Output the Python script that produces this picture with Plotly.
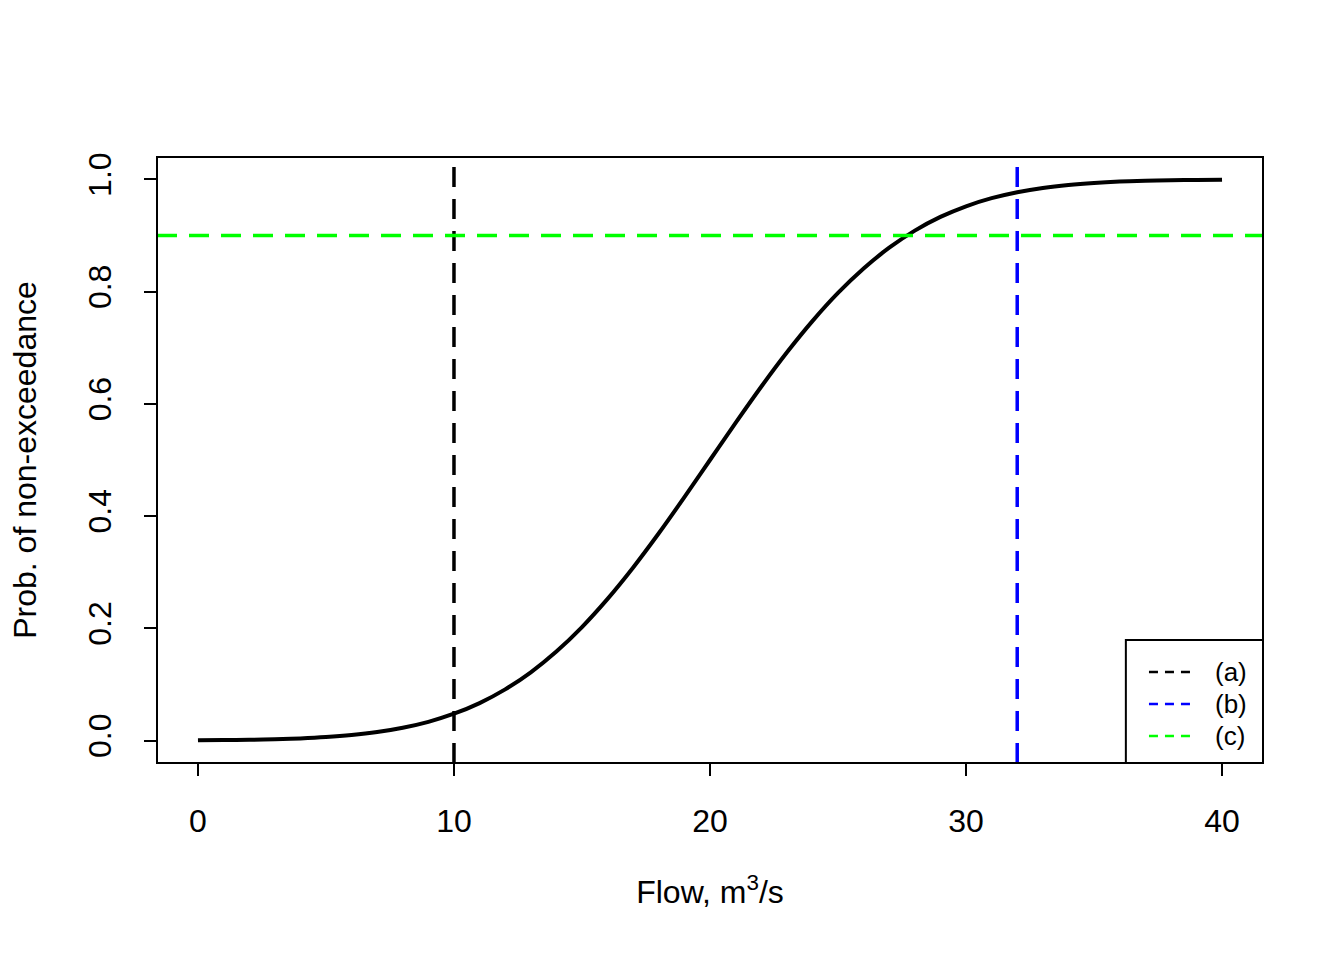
import plotly.graph_objects as go

# Data
flow = list(range(0, 41))
prob = [0.0004, 0.0008, 0.0013, 0.0023, 0.0038, 0.0062, 0.0098, 0.0151, 0.0228, 0.0334,
        0.0478, 0.0668, 0.0912, 0.1217, 0.1587, 0.2023, 0.2525, 0.3085, 0.3694, 0.4338,
        0.5000, 0.5662, 0.6306, 0.6915, 0.7475, 0.7977, 0.8413, 0.8783, 0.9088, 0.9332,
        0.9522, 0.9666, 0.9772, 0.9849, 0.9902, 0.9938, 0.9962, 0.9977, 0.9987, 0.9992,
        0.9996]
flow_a = 10
flow_b = 32
prob_c = 0.9
legend_labels = ["(a)", "(b)", "(c)"]
legend_colors = ["black", "blue", "#00ff00"]
x_ticks = [0, 10, 20, 30, 40]
y_ticks = [0.0, 0.2, 0.4, 0.6, 0.8, 1.0]
y_ticklabels = ["0.0", "0.2", "0.4", "0.6", "0.8", "1.0"]

xr = [-1.6, 41.6]
yr = [-0.04, 1.04]
dash = "20px,12px"
font_family = "Liberation Sans, Arial, sans-serif"

fig = go.Figure()
fig.add_trace(go.Scatter(x=flow, y=prob, mode="lines", line=dict(color="black", width=4, shape="spline"),
                         showlegend=False, hoverinfo="skip"))
fig.add_trace(go.Scatter(x=[flow_a, flow_a], y=yr, mode="lines", showlegend=False,
                         line=dict(color=legend_colors[0], width=3.5, dash=dash), name=legend_labels[0]))
fig.add_trace(go.Scatter(x=[flow_b, flow_b], y=yr, mode="lines", showlegend=False,
                         line=dict(color=legend_colors[1], width=3.5, dash=dash), name=legend_labels[1]))
fig.add_trace(go.Scatter(x=xr, y=[prob_c, prob_c], mode="lines", showlegend=False,
                         line=dict(color=legend_colors[2], width=3.5, dash=dash), name=legend_labels[2]))

# plot frame
fig.add_shape(type="rect", xref="paper", yref="paper", x0=0, y0=0, x1=1, y1=1,
              line=dict(color="black", width=2), layer="above")

# legend box (R-style, bottom right)
fig.add_shape(type="rect", xref="paper", yref="paper", x0=0.876, y0=0, x1=1, y1=0.203,
              line=dict(color="black", width=2), fillcolor="white", layer="above")
row_y = [0.150, 0.0974, 0.0446]
for lab, col, yy in zip(legend_labels, legend_colors, row_y):
    fig.add_shape(type="line", xref="paper", yref="paper", x0=0.8969, x1=0.9349, y0=yy, y1=yy,
                  line=dict(color=col, width=2.5, dash="9px,7px"), layer="above")
    fig.add_annotation(xref="paper", yref="paper", x=0.9548, y=yy, text=lab, showarrow=False,
                       xanchor="left", yanchor="middle", font=dict(size=26, family=font_family, color="black"))

fig.update_layout(
    width=1344, height=960,
    margin=dict(l=157, r=81, t=157, b=197),
    plot_bgcolor="white", paper_bgcolor="white",
    font=dict(family=font_family, size=32, color="black"),
    showlegend=False,
    xaxis=dict(range=xr, tickmode="array", tickvals=x_ticks, ticktext=[str(v) for v in x_ticks],
               ticks="outside", ticklen=12, tickwidth=2, tickcolor="black",
               showgrid=False, zeroline=False, showline=False, ticklabelstandoff=18,
               tickfont=dict(size=32),
               title=dict(text="Flow, m<sup>3</sup>/s", font=dict(size=32), standoff=42)),
    yaxis=dict(range=yr, tickmode="array", tickvals=y_ticks, ticktext=y_ticklabels,
               ticks="outside", ticklen=12, tickwidth=2, tickcolor="black", tickangle=-90,
               showgrid=False, zeroline=False, showline=False, ticklabelstandoff=20,
               tickfont=dict(size=32),
               title=dict(text="Prob. of non-exceedance", font=dict(size=32), standoff=36)),
)

fig.write_html("out.html")
